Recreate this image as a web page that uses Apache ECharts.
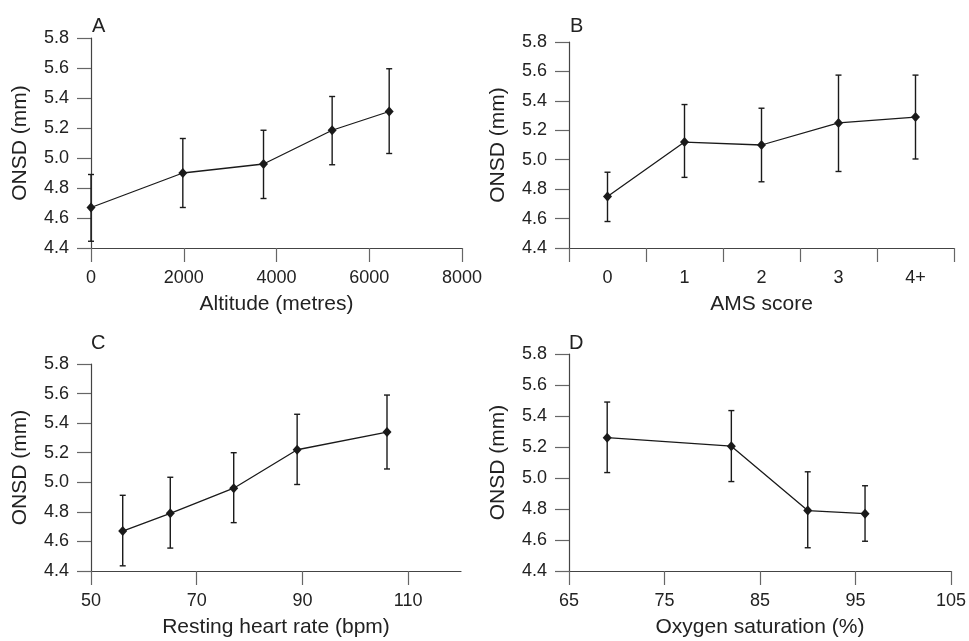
<!DOCTYPE html>
<html>
<head>
<meta charset="utf-8">
<script src="https://cdn.jsdelivr.net/npm/echarts@6/dist/echarts.min.js"></script>
<style>
html,body{margin:0;padding:0;background:#fff;}
#c{width:969px;height:641px;}
</style>
</head>
<body>
<div id="c"></div>
<script>
// Panel A: altitude
const altX = [0, 1980, 3720, 5200, 6430];
const altY = [4.67, 4.90, 4.96, 5.185, 5.31];
const altLo = [4.445, 4.67, 4.73, 4.955, 5.03];
const altHi = [4.89, 5.13, 5.185, 5.41, 5.595];
// Panel B: AMS score
const amsCats = ['0', '1', '2', '3', '4+'];
const amsY = [4.75, 5.12, 5.10, 5.25, 5.29];
const amsLo = [4.58, 4.88, 4.85, 4.92, 5.005];
const amsHi = [4.915, 5.375, 5.35, 5.575, 5.575];
// Panel C: resting heart rate
const hrX = [56, 65, 77, 89, 106];
const hrY = [4.67, 4.79, 4.96, 5.22, 5.34];
const hrLo = [4.435, 4.555, 4.727, 4.985, 5.09];
const hrHi = [4.912, 5.034, 5.20, 5.46, 5.59];
// Panel D: oxygen saturation
const spoX = [69, 82, 90, 96];
const spoY = [5.26, 5.205, 4.79, 4.77];
const spoLo = [5.035, 4.977, 4.55, 4.592];
const spoHi = [5.49, 5.435, 5.04, 4.95];
// tick labels
const hrTicks = [50, 70, 90, 110];
const spoTicks = [65, 75, 85, 95, 105];

const FONT = '"Liberation Sans", Arial, sans-serif';
const TXT = '#222';
const AX = '#444';
const LABEL_SIZE = 18;
const NAME_SIZE = 21;

function yAxis(gi) {
  return {
    type: 'value', gridIndex: gi, min: 4.4, max: 5.8, interval: 0.2,
    name: 'ONSD (mm)', nameLocation: 'middle', nameGap: 60,
    nameTextStyle: {fontFamily: FONT, fontSize: NAME_SIZE, color: TXT},
    axisLine: {show: true, lineStyle: {color: AX, width: 1.2}},
    axisTick: {show: true, length: 14, lineStyle: {color: '#666', width: 1.2}},
    axisLabel: {fontFamily: FONT, fontSize: LABEL_SIZE, color: TXT, margin: 22,
      formatter: v => v.toFixed(1)},
    splitLine: {show: false}
  };
}
function xCommon(gi, name) {
  return {
    gridIndex: gi, name: name, nameLocation: 'middle', nameGap: 46,
    nameTextStyle: {fontFamily: FONT, fontSize: NAME_SIZE, color: TXT},
    axisLine: {show: true, lineStyle: {color: AX, width: 1.2}},
    axisTick: {show: true, length: 14, inside: false, lineStyle: {color: '#666', width: 1.2}},
    axisLabel: {fontFamily: FONT, fontSize: LABEL_SIZE, color: TXT, margin: 21},
    splitLine: {show: false}
  };
}

const xA = Object.assign(xCommon(0, 'Altitude (metres)'), {type: 'value', min: 0, max: 8000, interval: 2000});
xA.axisLabel.formatter = v => String(v);
const xB = Object.assign(xCommon(1, 'AMS score'), {type: 'category', data: amsCats, boundaryGap: true});
xB.axisTick.alignWithLabel = false;
const xC = Object.assign(xCommon(2, 'Resting heart rate (bpm)'), {type: 'value', min: 50, max: 120});
xC.axisTick.customValues = hrTicks;
xC.axisLabel.customValues = hrTicks;
xC.axisLabel.formatter = v => String(v);
const xD = Object.assign(xCommon(3, 'Oxygen saturation (%)'), {type: 'value', min: 65, max: 105});
xD.axisTick.customValues = spoTicks;
xD.axisLabel.customValues = spoTicks;
xD.axisLabel.formatter = v => String(v);

function errRender(params, api) {
  const x = api.value(0), lo = api.value(1), hi = api.value(2);
  const pLo = api.coord([x, lo]);
  const pHi = api.coord([x, hi]);
  const w = 3;
  const st = {stroke: '#1a1a1a', lineWidth: 1.4};
  return {
    type: 'group',
    children: [
      {type: 'line', shape: {x1: pLo[0], y1: pLo[1], x2: pHi[0], y2: pHi[1]}, style: st},
      {type: 'line', shape: {x1: pLo[0] - w, y1: pLo[1], x2: pLo[0] + w, y2: pLo[1]}, style: st},
      {type: 'line', shape: {x1: pHi[0] - w, y1: pHi[1], x2: pHi[0] + w, y2: pHi[1]}, style: st}
    ]
  };
}
function lineSeries(gi, data) {
  return {
    type: 'line', xAxisIndex: gi, yAxisIndex: gi, data: data,
    symbol: 'diamond', symbolSize: [9, 10], showSymbol: true,
    lineStyle: {color: '#1a1a1a', width: 1.3},
    itemStyle: {color: '#1a1a1a'}, animation: false, z: 3
  };
}
function errSeries(gi, data) {
  return {type: 'custom', xAxisIndex: gi, yAxisIndex: gi, data: data,
    renderItem: errRender, animation: false, z: 2,
    encode: {x: 0, y: [1, 2]}};
}

const dataA = altX.map((x, i) => [x, altY[i]]);
const errA = altX.map((x, i) => [x, altLo[i], altHi[i]]);
const dataB = amsCats.map((c, i) => [i, amsY[i]]);
const errB = amsCats.map((c, i) => [i, amsLo[i], amsHi[i]]);
const dataC = hrX.map((x, i) => [x, hrY[i]]);
const errC = hrX.map((x, i) => [x, hrLo[i], hrHi[i]]);
const dataD = spoX.map((x, i) => [x, spoY[i]]);
const errD = spoX.map((x, i) => [x, spoLo[i], spoHi[i]]);

const titleStyle = {fontFamily: FONT, fontSize: 20, fontWeight: 'normal', color: TXT};
const option = {
  backgroundColor: '#fff',
  animation: false,
  title: [
    {text: 'A', left: 92, top: 16, textStyle: titleStyle, padding: 0},
    {text: 'B', left: 570, top: 16, textStyle: titleStyle, padding: 0},
    {text: 'C', left: 91, top: 333, textStyle: titleStyle, padding: 0},
    {text: 'D', left: 569, top: 333, textStyle: titleStyle, padding: 0}
  ],
  grid: [
    {left: 91, top: 38, width: 371, height: 210},
    {left: 569, top: 42, width: 385, height: 206},
    {left: 91, top: 364, width: 370, height: 207},
    {left: 569, top: 354, width: 384, height: 217}
  ],
  xAxis: [xA, xB, xC, xD],
  yAxis: [yAxis(0), yAxis(1), yAxis(2), yAxis(3)],
  series: [
    errSeries(0, errA), lineSeries(0, dataA),
    errSeries(1, errB), lineSeries(1, dataB),
    errSeries(2, errC), lineSeries(2, dataC),
    errSeries(3, errD), lineSeries(3, dataD)
  ]
};
const chart = echarts.init(document.getElementById('c'), null, {renderer: 'canvas'});
chart.setOption(option);
</script>
</body>
</html>
